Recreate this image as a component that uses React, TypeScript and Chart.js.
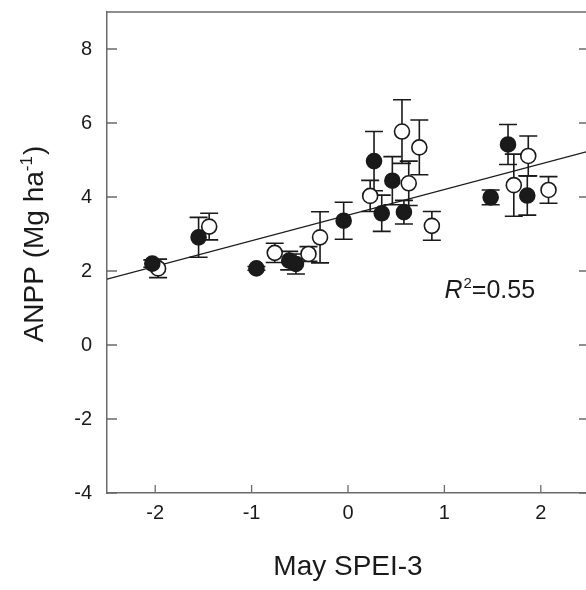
import React, { useEffect, useRef } from 'react';
import { Chart, registerables } from 'chart.js';

Chart.register(...registerables);

// Filled circles
const FILLED_X = [-2.03, -1.55, -0.95, -0.61, -0.54, -0.045, 0.27, 0.35, 0.46, 0.58, 1.48, 1.66, 1.86];
const FILLED_Y = [2.2, 2.91, 2.07, 2.28, 2.19, 3.36, 4.97, 3.56, 4.44, 3.59, 3.99, 5.42, 4.04];
const FILLED_ERR = [0.1, 0.54, 0.05, 0.25, 0.27, 0.5, 0.8, 0.49, 0.65, 0.32, 0.2, 0.54, 0.53];
// Open circles
const OPEN_X = [-1.97, -1.44, -0.76, -0.41, -0.29, 0.23, 0.56, 0.63, 0.74, 0.87, 1.72, 1.87, 2.08];
const OPEN_Y = [2.07, 3.2, 2.49, 2.46, 2.91, 4.03, 5.77, 4.37, 5.34, 3.22, 4.32, 5.11, 4.19];
const OPEN_ERR = [0.25, 0.36, 0.26, 0.2, 0.69, 0.42, 0.86, 0.6, 0.74, 0.39, 0.84, 0.54, 0.36];
// Regression line end points
const FIT_X = [-2.5, 2.5];
const FIT_Y = [1.78, 5.24];
// Axes
const X_TICKS = [-2, -1, 0, 1, 2];
const Y_TICKS = [-4, -2, 0, 2, 4, 6, 8];
const X_RANGE = [-2.5, 2.5];
const Y_RANGE = [-4, 9];
const X_TITLE = 'May SPEI-3';
const Y_TITLE_MAIN = 'ANPP (Mg ha';
const Y_TITLE_SUP = '-1';
const Y_TITLE_END = ')';
const R2_TEXT = '=0.55';
const R2_POS = [1.0, 1.27];

const FONT = "'Liberation Sans', Arial, sans-serif";
const INK = '#1a1a1a';
const AXIS = '#6a6a6a';

const toPts = (xs: number[], ys: number[]) => xs.map((x, i) => ({ x, y: ys[i] }));

const errorBarPlugin = {
  id: 'errorBars',
  beforeDatasetsDraw(chart: any) {
    const ctx = chart.ctx;
    const yScale = chart.scales.y;
    ctx.save();
    ctx.strokeStyle = INK;
    ctx.lineWidth = 1.6;
    chart.data.datasets.forEach((ds: any, i: number) => {
      if (!ds.errors) return;
      const meta = chart.getDatasetMeta(i);
      meta.data.forEach((el: any, j: number) => {
        const v = ds.data[j].y;
        const e = ds.errors[j];
        const yt = yScale.getPixelForValue(v + e);
        const yb = yScale.getPixelForValue(v - e);
        const x = el.x;
        const cw = 9;
        ctx.beginPath();
        ctx.moveTo(x, yt);
        ctx.lineTo(x, yb);
        ctx.moveTo(x - cw, yt);
        ctx.lineTo(x + cw, yt);
        ctx.moveTo(x - cw, yb);
        ctx.lineTo(x + cw, yb);
        ctx.stroke();
      });
    });
    ctx.restore();
  },
};

const framePlugin = {
  id: 'frame',
  afterDraw(chart: any) {
    const { ctx, chartArea } = chart;
    const xs = chart.scales.x;
    const ys = chart.scales.y;
    ctx.save();
    ctx.strokeStyle = AXIS;
    ctx.lineWidth = 1.5;
    ctx.beginPath();
    ctx.moveTo(chartArea.left, chartArea.top);
    ctx.lineTo(chartArea.right, chartArea.top);
    ctx.lineTo(chartArea.right, chartArea.bottom);
    ctx.stroke();
    ctx.lineWidth = 1.3;
    ctx.beginPath();
    X_TICKS.forEach((v) => {
      const px = xs.getPixelForValue(v);
      ctx.moveTo(px, chartArea.bottom);
      ctx.lineTo(px, chartArea.bottom - 8);
    });
    Y_TICKS.forEach((v) => {
      const py = ys.getPixelForValue(v);
      ctx.moveTo(chartArea.left, py);
      ctx.lineTo(chartArea.left + 10, py);
      ctx.moveTo(chartArea.right, py);
      ctx.lineTo(chartArea.right - 10, py);
    });
    ctx.stroke();

    ctx.fillStyle = INK;
    ctx.textBaseline = 'alphabetic';
    ctx.textAlign = 'left';

    // R^2 annotation
    const ax = xs.getPixelForValue(R2_POS[0]);
    const ay = ys.getPixelForValue(R2_POS[1]);
    ctx.font = `italic 25px ${FONT}`;
    ctx.fillText('R', ax, ay);
    let w = ctx.measureText('R').width;
    ctx.font = `15px ${FONT}`;
    ctx.fillText('2', ax + w + 1, ay - 10);
    w += ctx.measureText('2').width + 1;
    ctx.font = `25px ${FONT}`;
    ctx.fillText(R2_TEXT, ax + w, ay);

    // Y axis title with superscript
    const big = `28px ${FONT}`;
    const small = `17px ${FONT}`;
    ctx.font = big;
    const w1 = ctx.measureText(Y_TITLE_MAIN).width;
    const w3 = ctx.measureText(Y_TITLE_END).width;
    ctx.font = small;
    const w2 = ctx.measureText(Y_TITLE_SUP).width;
    const total = w1 + w2 + w3 + 1;
    const cy = 244;
    const baseX = 43;
    ctx.translate(baseX, cy);
    ctx.rotate(-Math.PI / 2);
    let px = -total / 2;
    ctx.font = big;
    ctx.fillText(Y_TITLE_MAIN, px, 0);
    px += w1;
    ctx.font = small;
    ctx.fillText(Y_TITLE_SUP, px, -11);
    px += w2 + 1;
    ctx.font = big;
    ctx.fillText(Y_TITLE_END, px, 0);
    ctx.restore();
  },
};

const zeroPad = (s: any) => {
  s.paddingTop = 0;
  s.paddingBottom = 0;
  s.paddingLeft = 0;
  s.paddingRight = 0;
};

export default function App() {
  const ref = useRef<HTMLCanvasElement>(null);
  useEffect(() => {
    if (!ref.current) return;
    const chart = new Chart(ref.current, {
      type: 'scatter',
      data: {
        datasets: [
          {
            type: 'line',
            data: toPts(FIT_X, FIT_Y),
            borderColor: INK,
            borderWidth: 1.3,
            pointRadius: 0,
            fill: false,
            order: 3,
          } as any,
          {
            data: toPts(OPEN_X, OPEN_Y),
            errors: OPEN_ERR,
            backgroundColor: '#ffffff',
            borderColor: INK,
            borderWidth: 1.6,
            pointRadius: 7.5,
            order: 2,
          } as any,
          {
            data: toPts(FILLED_X, FILLED_Y),
            errors: FILLED_ERR,
            backgroundColor: INK,
            borderColor: INK,
            borderWidth: 1.6,
            pointRadius: 7.5,
            order: 1,
          } as any,
        ],
      },
      options: {
        animation: false,
        responsive: false,
        events: [],
        layout: { padding: { top: 12, right: 11, left: 0, bottom: 0 } },
        plugins: { legend: { display: false }, tooltip: { enabled: false } },
        scales: {
          x: {
            type: 'linear',
            min: X_RANGE[0],
            max: X_RANGE[1],
            grid: { display: false, drawTicks: false },
            border: { display: true, color: AXIS, width: 1.5 },
            afterBuildTicks: (s: any) => {
              s.ticks = X_TICKS.map((value) => ({ value }));
            },
            afterFit: (s: any) => {
              s.height = 97;
              zeroPad(s);
            },
            ticks: {
              color: INK,
              padding: 8,
              font: { family: FONT, size: 20 },
              maxRotation: 0,
              callback: (v: any) => String(v),
            },
            title: {
              display: true,
              text: X_TITLE,
              color: INK,
              font: { family: FONT, size: 28 },
              padding: { top: 6, bottom: 6 },
            },
          },
          y: {
            type: 'linear',
            min: Y_RANGE[0],
            max: Y_RANGE[1],
            grid: { display: false, drawTicks: false },
            border: { display: true, color: AXIS, width: 1.5 },
            afterBuildTicks: (s: any) => {
              s.ticks = Y_TICKS.map((value) => ({ value }));
            },
            afterFit: (s: any) => {
              s.width = 107;
              zeroPad(s);
            },
            ticks: {
              color: INK,
              padding: 15,
              font: { family: FONT, size: 20 },
              callback: (v: any) => String(v),
            },
          },
        },
      } as any,
      plugins: [errorBarPlugin, framePlugin],
    });
    return () => chart.destroy();
  }, []);
  return (
    <div style={{ position: 'fixed', left: 0, top: 0, width: 586, height: 590, overflow: 'hidden', background: '#fff' }}>
      <canvas ref={ref} width={600} height={590} style={{ display: 'block' }} />
    </div>
  );
}
